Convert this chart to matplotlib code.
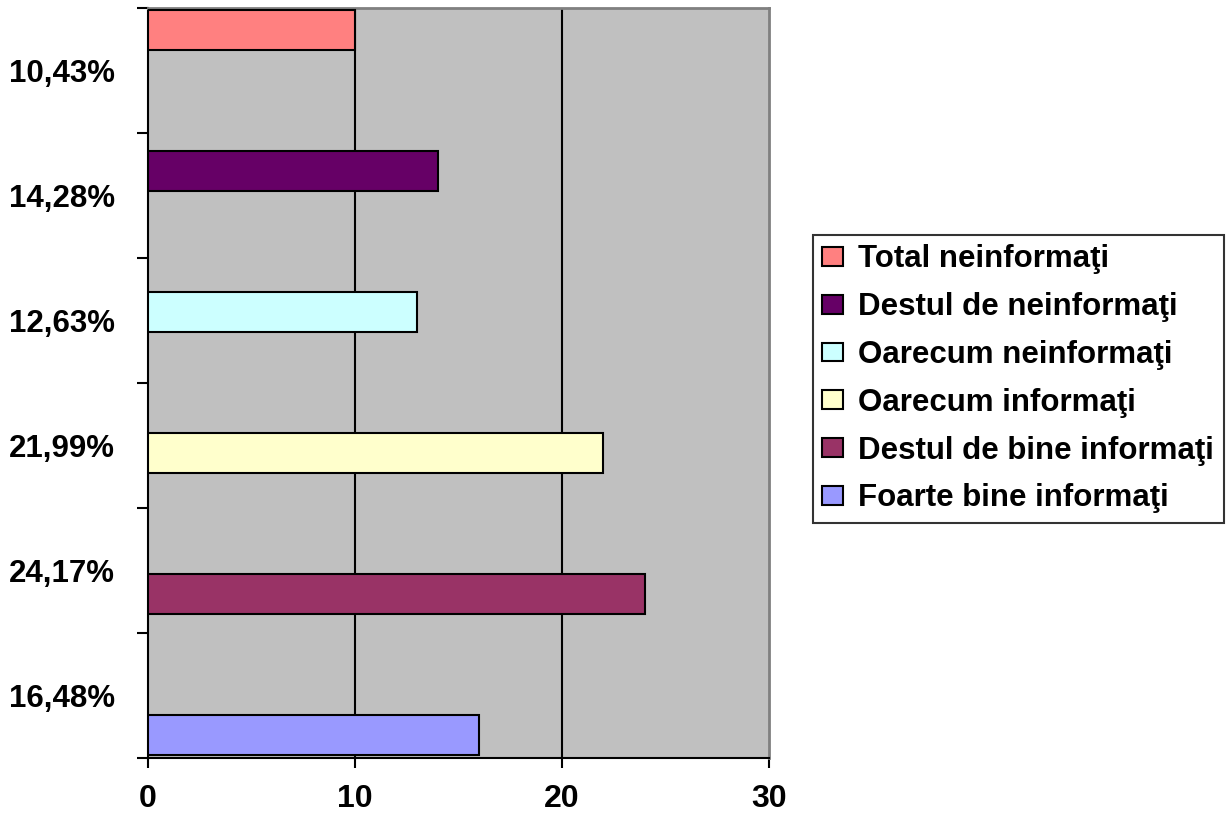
import matplotlib
matplotlib.use("Agg")
import matplotlib.pyplot as plt

plt.rcParams['font.family'] = ['Liberation Sans', 'DejaVu Sans']
plt.rcParams['font.weight'] = 'bold'

# Series, listed from the bottom band to the top band
categories = [
    "Foarte bine informaţi",
    "Destul de bine informaţi",
    "Oarecum informaţi",
    "Oarecum neinformaţi",
    "Destul de neinformaţi",
    "Total neinformaţi",
]
values = [16, 24, 22, 13, 14, 10]
pct_labels = ["16,48%", "24,17%", "21,99%", "12,63%", "14,28%", "10,43%"]
colors = ["#9999FF", "#993366", "#FFFFCC", "#CCFFFF", "#660066", "#FF8080"]
x_ticks = [0, 10, 20, 30]

fig = plt.figure(figsize=(12.26, 8.18), dpi=100)
ax = fig.add_axes([148 / 1226, 60 / 818, 621 / 1226, 750 / 818])
ax.set_facecolor("#C0C0C0")

# each series sits in its own slot of a six-wide clustered group
bar_h = 0.32
step = 0.128
gap = 0.024
handles = []
for i, (name, val, col) in enumerate(zip(categories, values, colors)):
    h = ax.barh(i + gap + i * step, val, height=bar_h, align='edge',
                color=col, edgecolor='black', linewidth=1.5, label=name, zorder=3)
    handles.append(h)

ax.set_xlim(0, 30)
ax.set_ylim(0, len(categories))

ax.set_xticks(x_ticks)
ax.set_xticklabels([str(t) for t in x_ticks], fontsize=23, fontweight='bold')
for t in x_ticks[1:-1]:
    ax.axvline(t, color='black', linewidth=1.5, zorder=2)

ax.set_yticks(range(len(categories) + 1))
ax.set_yticklabels([])
ax.set_yticks([i + 0.5 for i in range(len(categories))], minor=True)
ax.set_yticklabels(pct_labels, minor=True, fontsize=22.5, fontweight='bold')

ax.tick_params(axis='y', which='major', length=8, width=1.5, direction='out', color='black')
ax.tick_params(axis='y', which='minor', length=0, pad=24)
ax.tick_params(axis='x', which='major', length=7.5, width=1.5, direction='out', pad=11)

for side in ('left', 'bottom'):
    ax.spines[side].set_color('black')
    ax.spines[side].set_linewidth(1.5)
for side in ('top', 'right'):
    ax.spines[side].set_color('#808080')
    ax.spines[side].set_linewidth(2)

leg = fig.legend(handles[::-1], categories[::-1], loc='upper left',
                 bbox_to_anchor=(813 / 1226, 1 - 235 / 818),
                 prop={'family': 'Liberation Sans', 'weight': 'bold', 'size': 22.5},
                 frameon=True, fancybox=False, shadow=False,
                 handlelength=0.65, handleheight=0.55, handletextpad=0.5,
                 labelspacing=0.57, borderpad=0.3, borderaxespad=0)
leg.get_frame().set_edgecolor('black')
leg.get_frame().set_linewidth(1.5)

fig.savefig("out.png", dpi=100)
